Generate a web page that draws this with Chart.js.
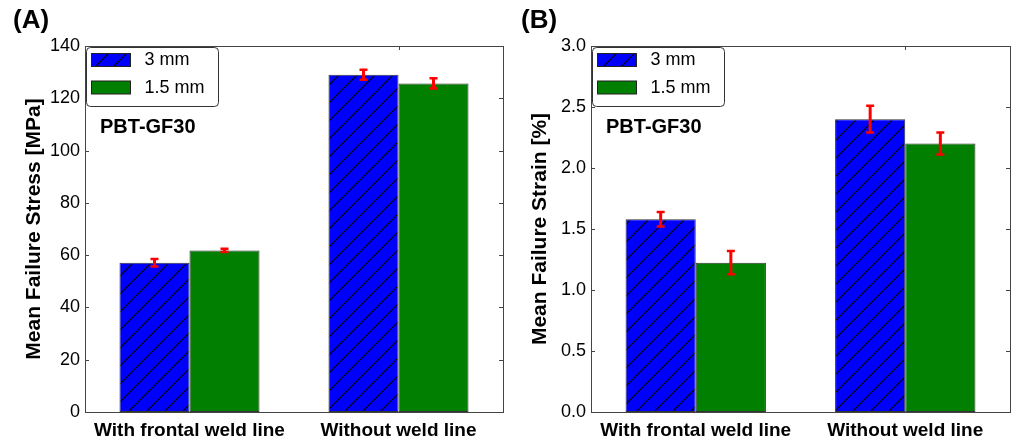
<!DOCTYPE html>
<html><head><meta charset="utf-8">
<script src="https://cdn.jsdelivr.net/npm/chart.js@4"></script>
<style>
html,body{margin:0;padding:0;background:#fff;}
#wrap{position:relative;width:1016px;height:443px;overflow:hidden;}
.panel{position:absolute;top:0;height:443px;width:508px;}
#pa{left:0;}
#pb{left:508px;}
</style></head><body>
<div id="wrap"><div class="panel" id="pa"><canvas id="ca"></canvas></div><div class="panel" id="pb"><canvas id="cb"></canvas></div></div>
<script>
const categories = ['With frontal weld line', 'Without weld line'];
const seriesLabels = ['3 mm', '1.5 mm'];
const stress3mm = [57.1, 129.0];
const stress15mm = [61.8, 125.7];
const stressErr3mm = [1.4, 1.9];
const stressErr15mm = [0.6, 2.0];
const strain3mm = [1.58, 2.40];
const strain15mm = [1.224, 2.20];
const strainErr3mm = [0.06, 0.11];
const strainErr15mm = [0.095, 0.09];
const stressTicks = [0, 20, 40, 60, 80, 100, 120, 140];
const strainTicks = [0, 0.5, 1.0, 1.5, 2.0, 2.5, 3.0];

const FONT = "'Liberation Sans', Arial, sans-serif";

function hatchPattern(ctx) {
  const c = document.createElement('canvas');
  const s = 18;
  c.width = s; c.height = s;
  const g = c.getContext('2d');
  g.fillStyle = '#0000ff'; g.fillRect(0, 0, s, s);
  g.strokeStyle = '#000'; g.lineWidth = 1.1;
  g.beginPath();
  for (let k = -1; k <= 1; k++) {
    g.moveTo(k * s - 2, s + 2);
    g.lineTo(k * s + s + 2, -2);
  }
  g.stroke();
  return ctx.createPattern(c, 'repeat');
}

const errorBars = {
  id: 'errorBars',
  afterDatasetsDraw(chart) {
    const ctx = chart.ctx, ys = chart.scales.y;
    ctx.save();
    ctx.strokeStyle = '#ff0000';
    chart.data.datasets.forEach((ds, i) => {
      const meta = chart.getDatasetMeta(i);
      meta.data.forEach((el, j) => {
        const v = ds.data[j], e = ds.errors[j];
        const y1 = ys.getPixelForValue(v + e), y2 = ys.getPixelForValue(v - e);
        ctx.lineWidth = 3;
        ctx.beginPath();
        ctx.moveTo(el.x, y1); ctx.lineTo(el.x, y2);
        ctx.stroke();
        ctx.lineWidth = 2.5;
        ctx.beginPath();
        ctx.moveTo(el.x - 4, y1); ctx.lineTo(el.x + 4, y1);
        ctx.moveTo(el.x - 4, y2); ctx.lineTo(el.x + 4, y2);
        ctx.stroke();
      });
    });
    ctx.restore();
  }
};

const frame = {
  id: 'frame',
  afterDraw(chart, args, opts) {
    const ctx = chart.ctx, a = chart.chartArea;
    const ys = chart.scales.y, xs = chart.scales.x;
    ctx.save();
    ctx.strokeStyle = '#444';
    ctx.lineWidth = 1;
    ctx.strokeRect(Math.round(a.left) + 0.5, Math.round(a.top) + 0.5,
      Math.round(a.right - a.left), Math.round(a.bottom - a.top));
    ctx.beginPath();
    ys.ticks.forEach(t => {
      const y = Math.round(ys.getPixelForValue(t.value)) + 0.5;
      ctx.moveTo(a.left, y); ctx.lineTo(a.left + 4, y);
      ctx.moveTo(a.right, y); ctx.lineTo(a.right - 4, y);
    });
    xs.ticks.forEach((t, i) => {
      const x = Math.round(xs.getPixelForTick(i)) + 0.5;
      ctx.moveTo(x, a.top); ctx.lineTo(x, a.top + 4);
    });
    ctx.stroke();
    // legend box
    const lx = Math.round(a.left) + 1.5, ly = Math.round(a.top) + 1.5, lw = 132, lh = 59, r = 4;
    ctx.beginPath();
    ctx.moveTo(lx + r, ly); ctx.lineTo(lx + lw - r, ly); ctx.arcTo(lx + lw, ly, lx + lw, ly + r, r);
    ctx.lineTo(lx + lw, ly + lh - r); ctx.arcTo(lx + lw, ly + lh, lx + lw - r, ly + lh, r);
    ctx.lineTo(lx + r, ly + lh); ctx.arcTo(lx, ly + lh, lx, ly + lh - r, r);
    ctx.lineTo(lx, ly + r); ctx.arcTo(lx, ly, lx + r, ly, r);
    ctx.closePath();
    ctx.fillStyle = '#fff'; ctx.fill();
    ctx.strokeStyle = '#333'; ctx.stroke();
    chart.data.datasets.forEach((ds, i) => {
      const sx = lx + 5, sy = ly + 6 + i * 27.5;
      ctx.fillStyle = ds.backgroundColor;
      ctx.fillRect(sx, sy, 39, 13);
      ctx.strokeStyle = '#222';
      ctx.strokeRect(sx, sy, 39, 13);
      ctx.fillStyle = '#000';
      ctx.font = '18px ' + FONT;
      ctx.textBaseline = 'middle';
      ctx.textAlign = 'left';
      ctx.fillText(ds.label, lx + 58, sy + 7);
    });
    // annotation & panel letter
    ctx.fillStyle = '#000';
    ctx.textBaseline = 'alphabetic';
    ctx.font = 'bold 20px ' + FONT;
    ctx.fillText(opts.note, a.left + 15, 133);
    ctx.font = 'bold 26px ' + FONT;
    ctx.fillText(opts.letter, 13, 28);
    ctx.restore();
  }
};

function makePanel(id, letter, yTitle, d3, d15, e3, e15, yTicks, yMax, axisW, titlePad, rightPad, fmt) {
  const canvas = document.getElementById(id);
  const ctx = canvas.getContext('2d');
  return new Chart(canvas, {
    type: 'bar',
    data: {
      labels: categories,
      datasets: [
        { label: seriesLabels[0], data: d3, errors: e3, backgroundColor: hatchPattern(ctx),
          borderColor: '#333', borderWidth: 1, borderSkipped: false,
          categoryPercentage: 0.67, barPercentage: 1.0 },
        { label: seriesLabels[1], data: d15, errors: e15, backgroundColor: '#007f00',
          borderColor: '#333', borderWidth: 1, borderSkipped: false,
          categoryPercentage: 0.67, barPercentage: 1.0 }
      ]
    },
    options: {
      responsive: true,
      maintainAspectRatio: false,
      animation: false,
      layout: { padding: { top: 46, right: rightPad, left: 0, bottom: 0 } },
      plugins: {
        legend: { display: false },
        tooltip: { enabled: false },
        frame: { letter: letter, note: 'PBT-GF30' }
      },
      scales: {
        x: {
          grid: { display: false, drawTicks: false },
          border: { display: false },
          ticks: { color: '#000', font: { family: FONT, size: 19, weight: 'bold' }, padding: 7, maxRotation: 0 },
          afterFit: s => { s.height = 31; }
        },
        y: {
          min: 0, max: yMax,
          grid: { display: false, drawTicks: false },
          border: { display: false },
          afterBuildTicks: s => { s.ticks = yTicks.map(v => ({ value: v })); },
          ticks: { color: '#000', font: { family: FONT, size: 18 }, padding: 5,
                   callback: v => fmt(v) },
          title: { display: true, text: yTitle, color: '#000',
                   font: { family: FONT, size: 21, weight: 'bold' }, padding: { top: titlePad, bottom: 0 } },
          afterFit: s => { s.width = axisW; }
        }
      }
    },
    plugins: [errorBars, frame]
  });
}

makePanel('ca', '(A)', 'Mean Failure Stress [MPa]', stress3mm, stress15mm, stressErr3mm, stressErr15mm,
  stressTicks, 140, 85, 22, 5, v => String(v));
makePanel('cb', '(B)', 'Mean Failure Strain [%]', strain3mm, strain15mm, strainErr3mm, strainErr15mm,
  strainTicks, 3.0, 83, 20, 6, v => v.toFixed(1));
</script>
</body></html>
